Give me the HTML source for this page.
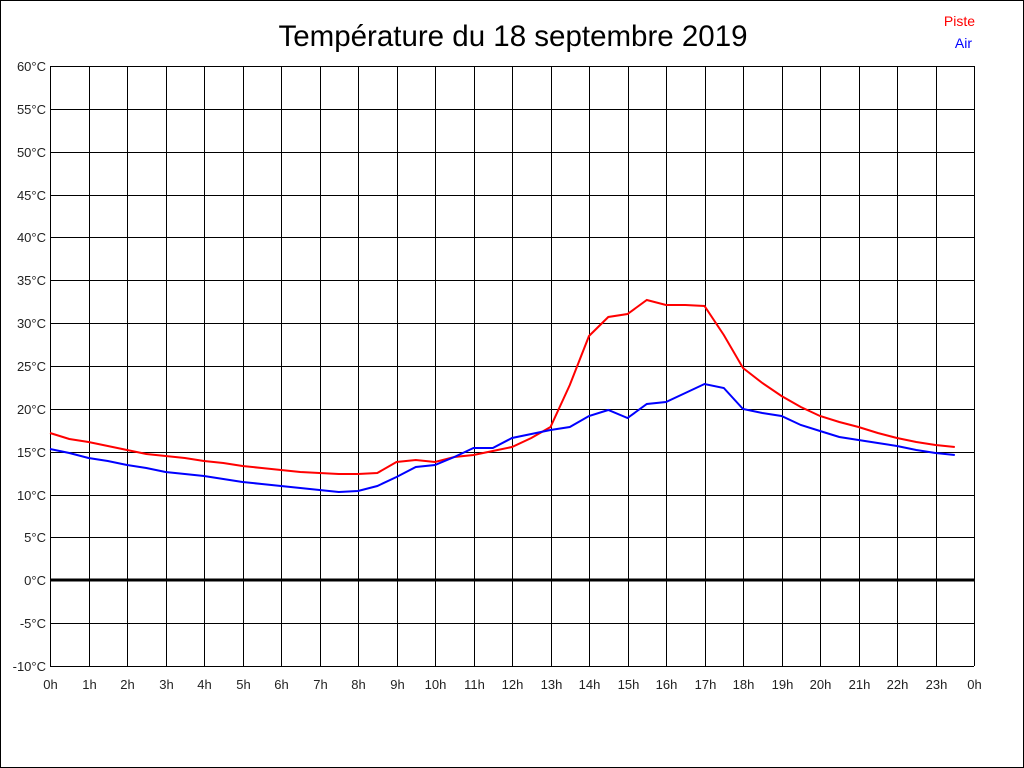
<!DOCTYPE html>
<html><head><meta charset="utf-8"><style>body{margin:0;background:#fff}svg{display:block}</style></head><body>
<svg width="1024" height="768" xmlns="http://www.w3.org/2000/svg" font-family="Liberation Sans, Arial, sans-serif">
<rect x="0.5" y="0.5" width="1023" height="767" fill="#fff" stroke="#000"/>
<text x="513" y="46" font-size="29.5" text-anchor="middle" fill="#000">Température du 18 septembre 2019</text>
<text x="975" y="26" font-size="14" text-anchor="end" fill="#f00">Piste</text>
<text x="972" y="48" font-size="14" text-anchor="end" fill="#00f">Air</text>
<g id="grid" stroke="#000" stroke-width="1" shape-rendering="crispEdges"></g>
<g id="labels" font-size="13" fill="#222"></g>
<polyline id="red" fill="none" stroke="#f00" stroke-width="2" points=""/>
<polyline id="blue" fill="none" stroke="#00f" stroke-width="2" points=""/>
<script>
var g=document.getElementById('grid'),L=document.getElementById('labels'),ns='http://www.w3.org/2000/svg';
function el(p,t,a,txt){var e=document.createElementNS(ns,t);for(var k in a)e.setAttribute(k,a[k]);if(txt!=null)e.textContent=txt;p.appendChild(e);}
for(var i=0;i<=14;i++){var y=66+i*600/14;var yy=Math.round(y)+0.5;var v=60-5*i;
 if(v!==0)el(g,'line',{x1:50,x2:974,y1:yy,y2:yy});
 el(L,'text',{x:46,y:Math.round(y)+5,'text-anchor':'end'},v+'°C');}
for(var h=0;h<=24;h++){var x=Math.round(50+h*38.5)+0.5;el(g,'line',{x1:x,x2:x,y1:66,y2:666});
 el(L,'text',{x:x,y:689,'text-anchor':'middle'},(h%24)+'h');}
el(g,'line',{x1:50,x2:974,y1:580,y2:580,'stroke-width':3});
var r=[433,439,442,446,450,454,456,458,461,463,466,468,470,472,473,474,474,473,462,460,462,457,455,451,447,438,427,385,336,317,314,300,305,305,306,335,368,383,396,407,416,422,427,433,438,442,445,447];
var b=[449,453,458,461,465,468,472,474,476,479,482,484,486,488,490,492,491,486,477,467,465,457,448,448,438,434,430,427,416,410,418,404,402,393,384,388,409,413,416,425,431,437,440,443,446,450,453,455];
function pts(a){return a.map(function(y,i){return (50+i*19.25).toFixed(1)+','+y}).join(' ');}
document.getElementById('red').setAttribute('points',pts(r));
document.getElementById('blue').setAttribute('points',pts(b));
</script>
</svg>
</body></html>
